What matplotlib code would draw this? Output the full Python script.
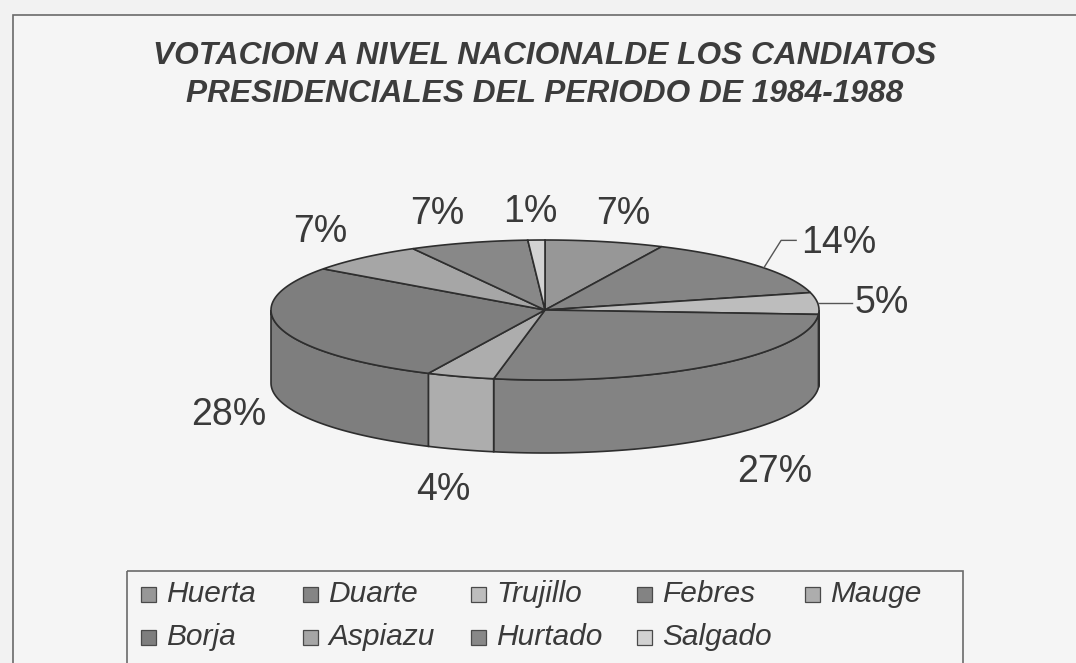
import numpy as np
import matplotlib.pyplot as plt
from matplotlib.patches import Polygon, Rectangle

# vote shares (%) clockwise from 12 o'clock
candidates = ['Huerta', 'Duarte', 'Trujillo', 'Febres', 'Mauge',
              'Borja', 'Aspiazu', 'Hurtado', 'Salgado']
shares = [7, 14, 5, 27, 4, 28, 7, 7, 1]
greys = ['#979797', '#858585', '#bdbdbd', '#838383', '#adadad',
         '#7e7e7e', '#a6a6a6', '#888888', '#d2d2d2']

title = 'VOTACION A NIVEL NACIONALDE LOS CANDIATOS\nPRESIDENCIALES DEL PERIODO DE 1984-1988'

# label offsets in pixels from the slice's rim point (layout only)
label_offsets = [(18, -28), (83, -22), (64, 0), (62, 34),
                 (-17, 40), (-51, 15), (-44, -25), (-31, -29), (-6, -28)]

W, H = 1076, 663
fig = plt.figure(figsize=(W / 100, H / 100), dpi=100, facecolor='#f2f2f2')
ax = fig.add_axes([0, 0, 1, 1])
ax.set_xlim(0, W)
ax.set_ylim(H, 0)
ax.axis('off')

# outer chart frame
ax.add_patch(Rectangle((13, 15), W, H, facecolor='#f5f5f5', edgecolor='#6a6a6a', lw=1.2, zorder=0))

ax.text(545, 75, title, ha='center', va='center', fontsize=22.8, fontweight='bold',
        fontstyle='italic', family='Liberation Sans', color='#3c3c3c', linespacing=1.36)

# pie geometry
cx, cy, a, b, depth = 545, 310, 274, 70, 73
frac = np.array(shares) / sum(shares)
cum = np.concatenate([[0], np.cumsum(frac)])
starts = 90 - 360 * cum[:-1]
ends = 90 - 360 * cum[1:]


def rim(t):
    t = np.radians(t)
    return cx + a * np.cos(t), cy - b * np.sin(t)


edge = '#2e2e2e'
# side walls (front half only)
for t0, t1, c in zip(starts, ends, greys):
    hi, lo = min(t0, 0), max(t1, -180)
    if lo >= hi:
        continue
    tt = np.linspace(hi, lo, 60)
    x, y = rim(tt)
    pts = np.vstack([np.column_stack([x, y]), np.column_stack([x[::-1], y[::-1] + depth])])
    ax.add_patch(Polygon(pts, closed=True, facecolor=c, edgecolor=edge, lw=1.2, zorder=2))

# top faces
for t0, t1, c in zip(starts, ends, greys):
    tt = np.linspace(t0, t1, 80)
    x, y = rim(tt)
    pts = np.vstack([[cx, cy], np.column_stack([x, y])])
    ax.add_patch(Polygon(pts, closed=True, facecolor=c, edgecolor=edge, lw=1.2, zorder=3))

# percentage labels
mids = (starts + ends) / 2
for m, s, (dx, dy) in zip(mids, shares, label_offsets):
    x, y = rim(m)
    if np.sin(np.radians(m)) < 0:
        y += depth
    ax.text(x + dx, y + dy, f'{s}%', ha='center', va='center', fontsize=27,
            family='Liberation Sans', color='#3a3a3a', zorder=5)

# leader lines for the two small right-hand labels
x, y = rim(mids[1])
ax.plot([x + 8, x + 25, x + 40], [y + 2, y - 25, y - 25], color='#555555', lw=1, zorder=4)
x, y = rim(mids[2])
ax.plot([x, x + 34], [y, y], color='#555555', lw=1, zorder=4)

# legend
ax.add_patch(Rectangle((127, 571), 963 - 127, 120, facecolor='none', edgecolor='#6a6a6a', lw=1.2, zorder=1))
col_x = [141, 303, 471, 637, 805]
row_y = [594, 637]
for i, (name, c) in enumerate(zip(candidates, greys)):
    x0 = col_x[i % 5]
    y0 = row_y[i // 5]
    ax.add_patch(Rectangle((x0, y0 - 7), 15, 15, facecolor=c, edgecolor='#4a4a4a', lw=0.9, zorder=4))
    ax.text(x0 + 25, y0, name, ha='left', va='center', fontsize=21.5, fontstyle='italic',
            family='Liberation Sans', color='#3a3a3a', zorder=5)

fig.savefig('out.png', dpi=100, facecolor=fig.get_facecolor())
